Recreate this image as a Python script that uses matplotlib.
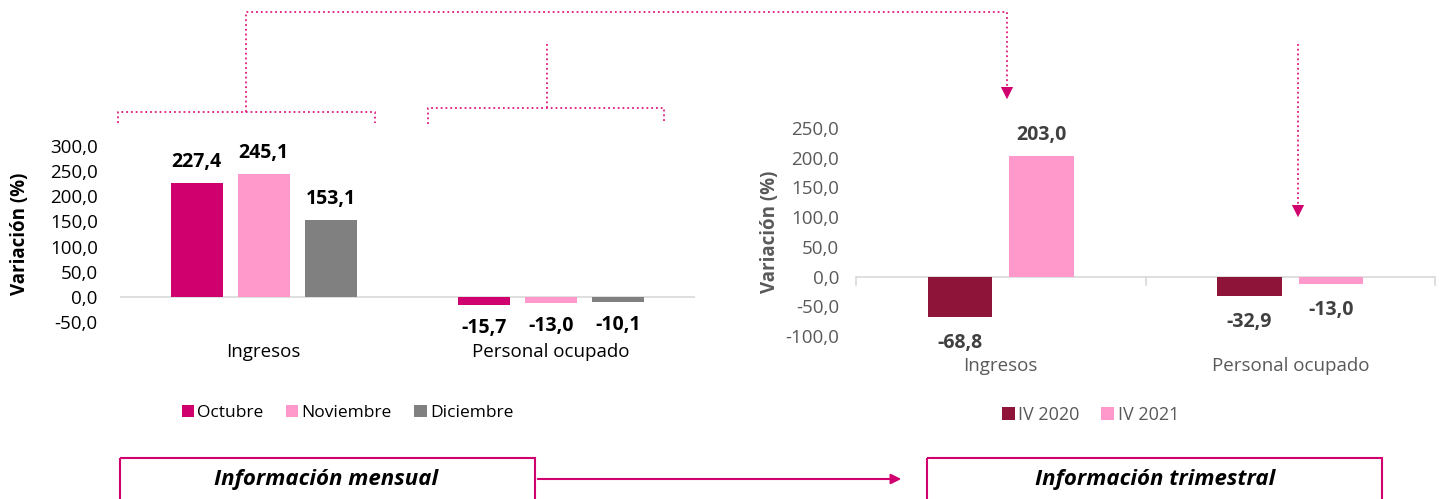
import matplotlib.pyplot as plt
import numpy as np
from matplotlib.patches import Rectangle

plt.rcParams['font.family'] = ['Open Sans', 'DejaVu Sans']

# datos mensuales
cat_mes = ['Ingresos', 'Personal ocupado']
series_mes = ['Octubre', 'Noviembre', 'Diciembre']
octubre = [227.4, -15.7]
noviembre = [245.1, -13.0]
diciembre = [153.1, -10.1]
colores_mes = ['#D0006F', '#FF99CC', '#808080']

# datos trimestrales
cat_tri = ['Ingresos', 'Personal ocupado']
series_tri = ['IV 2020', 'IV 2021']
iv2020 = [-68.8, -32.9]
iv2021 = [203.0, -13.0]
colores_tri = ['#8E1539', '#FF99CC']

W, H = 1442, 499
fig = plt.figure(figsize=(W / 100, H / 100), dpi=100)
FS = 13.5

def fmt(v):
    return f'{v:.1f}'.replace('.', ',')

def px(x0, y0, x1, y1):
    return [x0 / W, 1 - y1 / H, (x1 - x0) / W, (y1 - y0) / H]

# ---- grafica mensual ----
ax1 = fig.add_axes(px(120, 146, 695, 322))
upp1 = 350 / 176  # unidades por pixel
x = np.arange(len(cat_mes))
w = 0.18
off = 0.233
for i, (vals, col, lab) in enumerate(zip([octubre, noviembre, diciembre], colores_mes, series_mes)):
    pos = x + (i - 1) * off
    ax1.bar(pos, vals, w, color=col, label=lab, zorder=3)
    for p, v in zip(pos, vals):
        d = 21 * upp1 if v >= 0 else -23 * upp1
        ax1.text(p, v + d, fmt(v), ha='center', va='center', fontsize=14,
                 fontweight='bold', color='black')
ax1.set_xlim(-0.5, 1.5)
ax1.set_ylim(-50, 300)
ax1.set_yticks(np.arange(-50, 301, 50))
ax1.set_yticklabels([fmt(t) for t in np.arange(-50, 301, 50)], fontsize=FS, color='black')
ax1.set_xticks([])
for s in ax1.spines.values():
    s.set_visible(False)
ax1.axhline(0, color='#D9D9D9', lw=1.2, zorder=2)
ax1.tick_params(axis='y', length=0, pad=16)
ax1.set_ylabel('Variación (%)', fontsize=FS, fontweight='bold', labelpad=14)
for xi, c in zip(x, cat_mes):
    ax1.text(xi, -110, c, ha='center', va='center', fontsize=FS, color='black')
ax1.legend(loc='upper left', bbox_to_anchor=(0.095, -0.43), ncol=3, frameon=False,
           fontsize=12.5, handlelength=0.7, handleheight=0.7, handletextpad=0.2,
           columnspacing=1.3, borderaxespad=0)

# ---- grafica trimestral ----
ax2 = fig.add_axes(px(856, 128, 1435, 336))
upp2 = 350 / 208
x2 = np.arange(len(cat_tri))
w2 = 0.223
off2 = 0.141
for i, (vals, col, lab) in enumerate(zip([iv2020, iv2021], colores_tri, series_tri)):
    pos = x2 + (i * 2 - 1) * off2
    ax2.bar(pos, vals, w2, color=col, label=lab, zorder=3)
    for p, v in zip(pos, vals):
        d = 21 * upp2 if v >= 0 else -26 * upp2
        ax2.text(p, v + d, fmt(v), ha='center', va='center', fontsize=14,
                 fontweight='bold', color='#404040')
ax2.set_xlim(-0.5, 1.5)
ax2.set_ylim(-100, 250)
ax2.set_yticks(np.arange(-100, 251, 50))
ax2.set_yticklabels([fmt(t) for t in np.arange(-100, 251, 50)], fontsize=FS, color='#595959')
ax2.set_xticks([])
for s in ax2.spines.values():
    s.set_visible(False)
ax2.axhline(0, color='#D9D9D9', lw=1.2, zorder=2)
for b in [-0.5, 0.5, 1.5]:
    ax2.plot([b, b], [0, -14], color='#D9D9D9', lw=1.2, clip_on=False)
ax2.tick_params(axis='y', length=0, pad=12)
ax2.set_ylabel('Variación (%)', fontsize=FS, fontweight='bold', color='#595959', labelpad=4)
for xi, c in zip(x2, cat_tri):
    ax2.text(xi, -150, c, ha='center', va='center', fontsize=FS, color='#595959')
ax2.legend(loc='upper left', bbox_to_anchor=(0.24, -0.3), ncol=2, frameon=False,
           fontsize=13, handlelength=0.7, handleheight=0.7, handletextpad=0.2,
           columnspacing=1.2, borderaxespad=0, labelcolor='#595959')

# ---- conectores y cuadros ----
ov = fig.add_axes([0, 0, 1, 1])
ov.set_xlim(0, W)
ov.set_ylim(H, 0)
ov.axis('off')
mag = '#E0197D'
dot = dict(color=mag, lw=1.3, ls=':')
ov.plot([118, 118, 375, 375], [123, 112, 112, 123], **dot)
ov.plot([246, 246, 1007, 1007], [112, 12, 12, 90], **dot)
ov.plot([428, 428, 664, 664], [124, 108, 108, 124], **dot)
ov.plot([547, 547], [44, 108], **dot)
ov.plot([1298, 1298], [44, 208], **dot)
ov.annotate('', xy=(1007, 102), xytext=(1007, 86),
            arrowprops=dict(arrowstyle='-|>', color='#D0006F', lw=0, mutation_scale=22))
ov.annotate('', xy=(1298, 220), xytext=(1298, 204),
            arrowprops=dict(arrowstyle='-|>', color='#D0006F', lw=0, mutation_scale=22))

box = '#D0006F'
ov.add_patch(Rectangle((120, 458), 415, 60, fill=False, ec=box, lw=1.5))
ov.add_patch(Rectangle((927, 458), 455, 60, fill=False, ec=box, lw=1.5))
ov.text(326, 479, 'Información mensual', ha='center', va='center', fontsize=16,
        fontweight='bold', style='italic', color='black')
ov.text(1155, 479, 'Información trimestral', ha='center', va='center', fontsize=16,
        fontweight='bold', style='italic', color='black')
ov.annotate('', xy=(904, 479), xytext=(535, 479),
            arrowprops=dict(arrowstyle='-|>', color=box, lw=1.5, mutation_scale=15))

fig.savefig('out.png', dpi=100)
